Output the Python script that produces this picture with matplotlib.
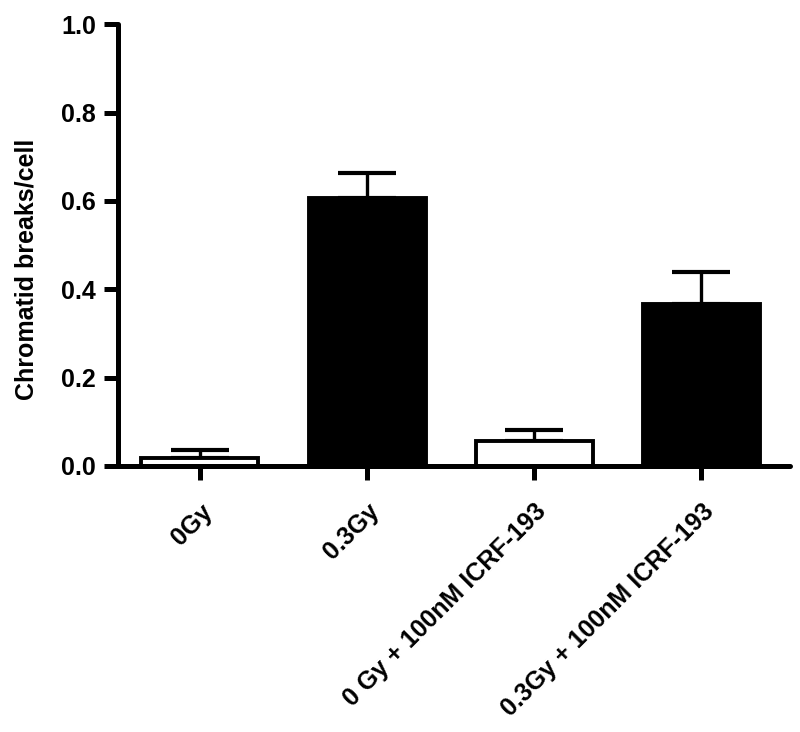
import matplotlib
matplotlib.use("Agg")
import matplotlib.pyplot as plt
import matplotlib.transforms as mtransforms
import numpy as np

categories = ["0Gy", "0.3Gy", "0 Gy + 100nM ICRF-193", "0.3Gy + 100nM ICRF-193"]
values = [0.018, 0.606, 0.057, 0.366]
errors = [0.018, 0.057, 0.025, 0.074]
fill_colors = ["white", "black", "white", "black"]
yticks = [0.0, 0.2, 0.4, 0.6, 0.8, 1.0]

plt.rcParams['font.family'] = ['Liberation Sans', 'DejaVu Sans']
plt.rcParams['font.weight'] = 'bold'

fig = plt.figure(figsize=(8, 7.32), dpi=100)
ax = fig.add_axes([0.1475, 0.3634, 0.8400, 0.6036])

x = np.arange(len(categories))
ax.bar(x, values, width=0.70, color=fill_colors, edgecolor="black", linewidth=2.8, zorder=2)
ax.errorbar(x, values, yerr=[np.zeros(len(errors)), errors], fmt='none', ecolor='black',
            elinewidth=2.4, capsize=21, capthick=3.0, zorder=1)

ax.set_xlim(-0.49, 3.53)
ax.set_ylim(0, 1.0)
ax.set_yticks(yticks)
ax.set_yticklabels([f"{v:.1f}" for v in yticks], fontsize=18, fontweight='bold')
ax.set_xticks(x)
ax.set_xticklabels(categories, rotation=45, ha='right', rotation_mode='anchor',
                   fontsize=18, fontweight='bold')
offset = mtransforms.ScaledTranslation(8/100, 0, fig.dpi_scale_trans)
for lbl in ax.get_xticklabels():
    lbl.set_transform(lbl.get_transform() + offset)
ax.set_ylabel("Chromatid breaks/cell", fontsize=18, fontweight='bold')
ax.yaxis.set_label_coords(-0.119, 0.446)

for s in ['top', 'right']:
    ax.spines[s].set_visible(False)
for s in ['left', 'bottom']:
    ax.spines[s].set_linewidth(3.6)
    ax.spines[s].set_capstyle('round')
ax.tick_params(axis='both', width=3.6, length=10, direction='out')
ax.tick_params(axis='x', pad=14)
ax.tick_params(axis='y', pad=6)

fig.savefig("out.png", dpi=100)
